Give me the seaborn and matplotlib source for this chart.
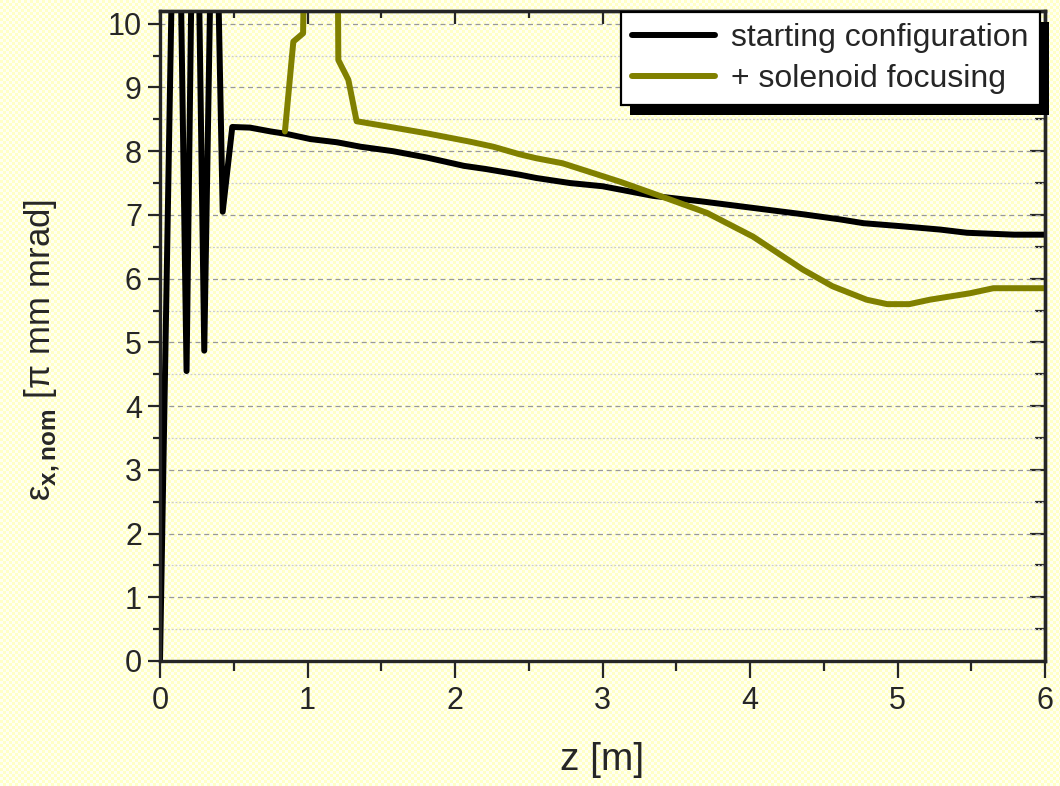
import numpy as np
import pandas as pd
import matplotlib
matplotlib.use("Agg")
import matplotlib.pyplot as plt
import seaborn as sns
from matplotlib.ticker import MultipleLocator
from matplotlib.patches import Rectangle
from matplotlib.transforms import IdentityTransform

# values
z_start = [0.0, 0.113, 0.18, 0.237, 0.30, 0.366, 0.425, 0.49, 0.61, 0.75, 0.86,
           1.02, 1.2, 1.36, 1.58, 1.81, 2.06, 2.21, 2.44, 2.55, 2.78, 3.0, 3.34,
           3.68, 4.02, 4.36, 4.61, 4.77, 5.04, 5.29, 5.47, 5.79, 6.0]
eps_start = [0.0, 15.0, 4.55, 15.0, 4.87, 14.0, 7.05, 8.38, 8.37, 8.31, 8.27,
             8.19, 8.14, 8.07, 8.0, 7.9, 7.77, 7.72, 7.63, 7.58, 7.50, 7.45, 7.30,
             7.21, 7.11, 7.01, 6.93, 6.87, 6.82, 6.77, 6.72, 6.69, 6.69]

z_sol = [0.847, 0.904, 0.97, 0.99, 1.20, 1.209, 1.277, 1.333, 1.537, 1.81, 2.10,
         2.26, 2.44, 2.55, 2.73, 3.12, 3.46, 3.71, 4.02, 4.36, 4.56, 4.79, 4.93,
         5.08, 5.22, 5.49, 5.65, 6.0]
eps_sol = [8.31, 9.72, 9.85, 13.0, 13.0, 9.43, 9.12, 8.47, 8.39, 8.28, 8.15,
           8.07, 7.95, 7.89, 7.81, 7.52, 7.24, 7.03, 6.66, 6.14, 5.88, 5.67, 5.60,
           5.60, 5.67, 5.77, 5.85, 5.85]

labels = ["starting configuration", "+ solenoid focusing"]
colors = ["black", "#808000"]

df = pd.concat([
    pd.DataFrame({"z": z_start, "eps": eps_start, "config": labels[0]}),
    pd.DataFrame({"z": z_sol, "eps": eps_sol, "config": labels[1]}),
], ignore_index=True)

sns.set_style("ticks")
plt.rcParams["font.family"] = ["Liberation Sans", "DejaVu Sans"]
plt.rcParams["mathtext.fontset"] = "custom"
plt.rcParams["mathtext.rm"] = "Liberation Sans"
plt.rcParams["mathtext.bf"] = "Liberation Sans:bold"

fig = plt.figure(figsize=(10.6, 7.86), dpi=100)

# pale dotted yellow paper behind everything
h, w = 786, 1060
yy, xx = np.mgrid[0:h, 0:w]
tex = np.ones((h, w, 3))
dots = ((xx // 3 + yy // 3) % 2 == 0)
tex[dots] = [1.0, 1.0, 0.78]
tex[~dots] = [1.0, 1.0, 0.95]
fig.figimage(tex, 0, 0, zorder=-10)
fig.patch.set_alpha(0)

ax = fig.add_axes([160 / 1060, 1 - 661 / 786, 885 / 1060, 650 / 786])
ax.set_facecolor("none")

lw = 4.3
sns.lineplot(data=df, x="z", y="eps", hue="config", palette=colors,
             sort=False, estimator=None, linewidth=lw, ax=ax, legend=False)

ax.set_xlim(0, 6)
ax.set_ylim(0, 10.2)
ax.xaxis.set_major_locator(MultipleLocator(1))
ax.xaxis.set_minor_locator(MultipleLocator(0.5))
ax.yaxis.set_major_locator(MultipleLocator(1))
ax.yaxis.set_minor_locator(MultipleLocator(0.5))

ax.grid(axis="y", which="major", color="#999999", linestyle=(0, (4, 3)), linewidth=0.9)
ax.grid(axis="y", which="minor", color="#cccccc", linestyle=(0, (1.5, 1.5)), linewidth=0.9)
ax.set_axisbelow(True)

for s in ax.spines.values():
    s.set_linewidth(2.4)
    s.set_visible(True)

ax.tick_params(axis="y", which="major", direction="out", length=9, width=1.6,
               labelsize=22, pad=4, right=False)
ax.tick_params(axis="y", which="minor", direction="out", length=5, width=1.6, right=False)
ax.tick_params(axis="x", which="major", direction="out", length=12, width=1.6,
               labelsize=22, pad=6, top=False)
ax.tick_params(axis="x", which="minor", direction="out", length=7.5, width=1.6, top=False)

# inward ticks on the top and right sides
sec_y = ax.secondary_yaxis("right")
sec_y.yaxis.set_major_locator(MultipleLocator(1))
sec_y.yaxis.set_minor_locator(MultipleLocator(0.5))
sec_y.tick_params(which="major", direction="in", length=11, width=1.6, labelright=False)
sec_y.tick_params(which="minor", direction="in", length=7, width=1.6)
sec_y.spines["right"].set_linewidth(2.4)
sec_x = ax.secondary_xaxis("top")
sec_x.xaxis.set_major_locator(MultipleLocator(1))
sec_x.xaxis.set_minor_locator(MultipleLocator(0.5))
sec_x.tick_params(which="major", direction="in", length=9, width=1.6, labeltop=False)
sec_x.tick_params(which="minor", direction="in", length=5, width=1.6)
sec_x.spines["top"].set_linewidth(2.4)

ax.set_xlabel("z [m]", fontsize=28)
ax.set_ylabel(r"ε$_{\mathbf{x,nom}}$ [π mm mrad]", fontsize=25)
ax.xaxis.set_label_coords(0.5, -0.125)
ax.yaxis.set_label_coords(-0.112, 0.478)

handles = [plt.Line2D([], [], color=c, linewidth=lw) for c in colors]
leg = ax.legend(handles, labels, loc="upper right", bbox_to_anchor=(0.9945, 0.9985),
                fontsize=23, frameon=True, fancybox=False, framealpha=1,
                edgecolor="black", handlelength=2.6, borderpad=0.36,
                labelspacing=0.32, handletextpad=0.5, borderaxespad=0)
leg.get_frame().set_linewidth(1.6)
leg.set_zorder(6)

# solid drop shadow under the legend box
fig.canvas.draw()
bb = leg.get_frame().get_window_extent()
ax.add_patch(Rectangle((bb.x0 + 9, bb.y0 - 10), bb.width, bb.height,
                       transform=IdentityTransform(), facecolor="black",
                       edgecolor="none", clip_on=False, zorder=5.5))

fig.savefig("out.png", dpi=100)
